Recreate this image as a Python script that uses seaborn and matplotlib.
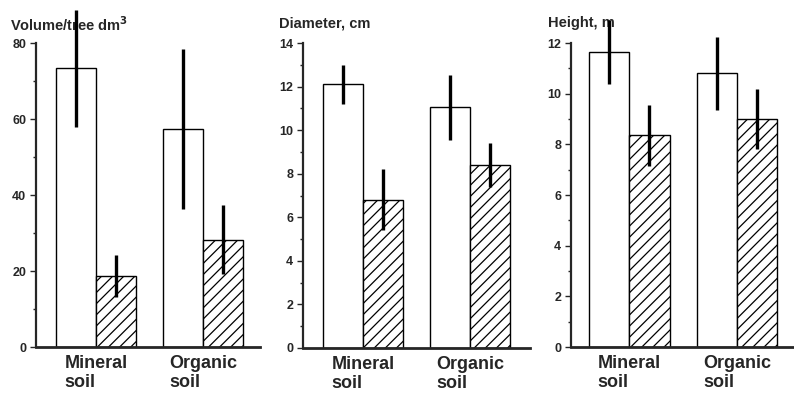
import matplotlib
matplotlib.use("Agg")
import matplotlib.pyplot as plt
from matplotlib.ticker import MultipleLocator
import seaborn as sns
import pandas as pd

# Data
soils = ["Mineral\nsoil", "Organic\nsoil"]
groups = ["open", "hatched"]

vol_open = [73.4, 57.4]
vol_open_err = [15.4, 21.0]
vol_hatched = [18.7, 28.2]
vol_hatched_err = [5.5, 9.1]

dia_open = [12.1, 11.05]
dia_open_err = [0.9, 1.5]
dia_hatched = [6.8, 8.4]
dia_hatched_err = [1.4, 1.0]

hgt_open = [11.65, 10.8]
hgt_open_err = [1.25, 1.45]
hgt_hatched = [8.35, 9.0]
hgt_hatched_err = [1.2, 1.2]

sns.set_style("ticks")
plt.rcParams['font.family'] = ['Liberation Sans', 'DejaVu Sans']
plt.rcParams['hatch.linewidth'] = 0.9

fig = plt.figure(figsize=(7.94, 3.96), dpi=100)

panels = [
    # title, open, open err, hatched, hatched err, ymax, major, rect, xlim, title pos
    ("Volume/tree dm$^{\\mathbf{3}}$", vol_open, vol_open_err, vol_hatched, vol_hatched_err,
     80, 20, [36/794, 1-347/396, 224/794, 304/396], (-0.56, 1.53), (-0.116, 1.06)),
    ("Diameter, cm", dia_open, dia_open_err, dia_hatched, dia_hatched_err,
     14, 2, [303/794, 1-348/396, 227/794, 305/396], (-0.56, 1.56), (-0.106, 1.063)),
    ("Height, m", hgt_open, hgt_open_err, hgt_hatched, hgt_hatched_err,
     12, 2, [571/794, 1-347/396, 222/794, 304/396], (-0.54, 1.52), (-0.104, 1.066)),
]

for title, v_open, e_open, v_hatch, e_hatch, ymax, major, rect, xlim, tpos in panels:
    ax = fig.add_axes(rect)
    df = pd.DataFrame({
        "soil": soils * 2,
        "group": [groups[0]] * 2 + [groups[1]] * 2,
        "value": v_open + v_hatch,
    })
    sns.barplot(data=df, x="soil", y="value", hue="group", order=soils,
                hue_order=groups, palette=["white", "white"], width=0.75,
                edgecolor="black", linewidth=1.0, errorbar=None, legend=False,
                ax=ax)
    errs = [e_open, e_hatch]
    vals = [v_open, v_hatch]
    # errorbar() adds containers too, so take the bar containers first
    bar_conts = list(ax.containers)
    for k, cont in enumerate(bar_conts):
        for j, bar in enumerate(cont.patches):
            if k == 1:
                bar.set_hatch("///")
            xc = bar.get_x() + bar.get_width() / 2
            ax.errorbar(xc, vals[k][j], yerr=errs[k][j], fmt="none",
                        ecolor="black", elinewidth=2.4, capsize=0,
                        clip_on=False, zorder=5)

    ax.set_xlim(*xlim)
    ax.set_ylim(0, ymax)
    ax.yaxis.set_major_locator(MultipleLocator(major))
    ax.yaxis.set_minor_locator(MultipleLocator(major / 2))
    ax.tick_params(axis="y", which="major", direction="out", length=4,
                   width=1, labelsize=9, pad=3)
    ax.tick_params(axis="y", which="minor", direction="out", length=2.5, width=1)
    ax.tick_params(axis="x", length=0, labelsize=13, pad=6)
    for lab in ax.get_yticklabels():
        lab.set_fontweight("bold")
    for lab in ax.get_xticklabels():
        lab.set_fontweight("bold")
        lab.set_multialignment("left")
        lab.set_linespacing(1.15)

    sns.despine(ax=ax)
    ax.spines["left"].set_linewidth(1.6)
    ax.spines["bottom"].set_linewidth(2.0)
    ax.set_xlabel("")
    ax.set_ylabel("")
    ax.text(tpos[0], tpos[1], title, transform=ax.transAxes, ha="left",
            va="center", fontsize=10.5, fontweight="bold")

fig.savefig("out.png", dpi=100)
